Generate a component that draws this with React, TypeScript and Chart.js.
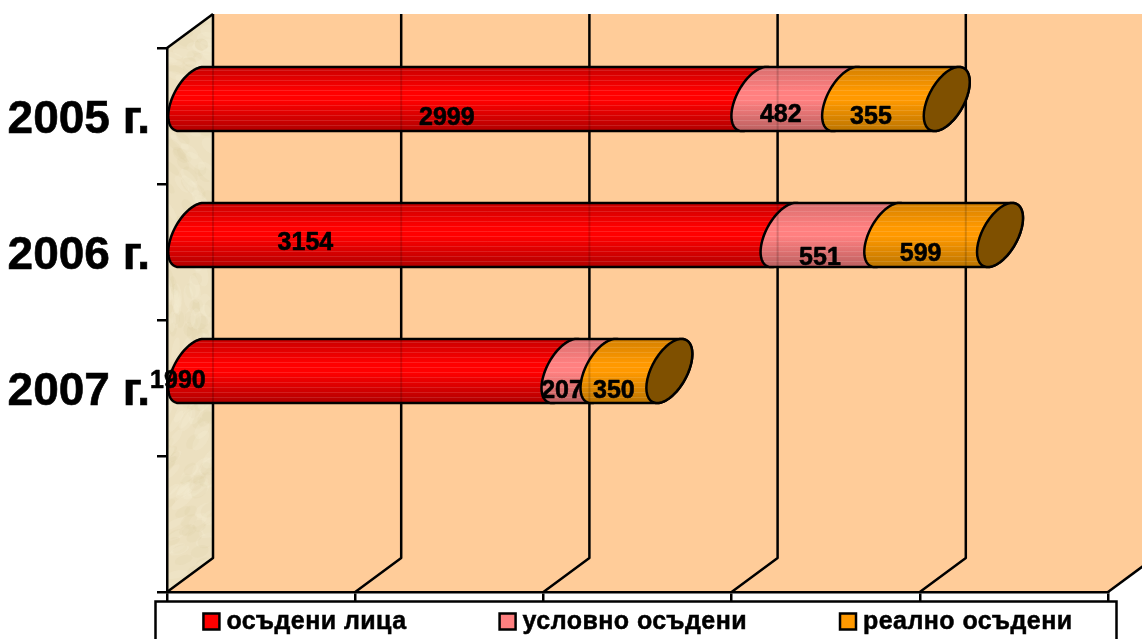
import React, { useEffect, useRef } from "react";
import { Chart, registerables } from "chart.js";

Chart.register(...registerables);

const categories = ["2005 г.", "2006 г.", "2007 г.", ""];
const seriesNames = ["осъдени лица", "условно осъдени", "реално осъдени"];
const convicted = [2999, 3154, 1990, null];
const suspended = [482, 551, 207, null];
// Bar length as drawn in the picture; the 2005 segment is longer than its printed label.
const effective = [540, 599, 350, null];
const convictedLabels = ["2999", "3154", "1990", ""];
const suspendedLabels = ["482", "551", "207", ""];
const effectiveLabels = ["355", "599", "350", ""];
const xMax = 5000;
const xStep = 1000;

const seriesLabels = [convictedLabels, suspendedLabels, effectiveLabels];
const LABEL_SHIFT: number[][][] = [
  [[-26, 19], [-19, 16], [-25, 18]],
  [[-182, 8], [-15.5, 23], [-23, 19]],
  [[-200, 10], [-22, 20], [-22.5, 20]],
];

const DEPTH_X = 46;
const DEPTH_Y = 34;
const COLORS = [
  { main: "#ff0000", top: "#c80000", bottom: "#b00000" },
  { main: "#ff8080", top: "#d86e6e", bottom: "#bb6060" },
  { main: "#ff9900", top: "#d48000", bottom: "#bb7400" },
];
const CAP = "#7f5000";
const FONT = '"Liberation Sans", Arial, sans-serif';
const LINE = 2.5;

function ellipsePath(ctx: any, cx: number, cy: number, ry: number, from: number, to: number, first: boolean) {
  const steps = 40;
  for (let i = 0; i <= steps; i++) {
    const t = from + ((to - from) * i) / steps;
    const px = cx + (DEPTH_X / 2) * Math.sin(t);
    const py = cy + ry * Math.cos(t) - (DEPTH_Y / 2) * Math.sin(t);
    if (i === 0 && first) ctx.moveTo(px, py);
    else ctx.lineTo(px, py);
  }
}

const scene = {
  id: "scene",
  beforeDraw(chart: any) {
    const { ctx, chartArea: a } = chart;
    chart.scales.y.getLabelItems().forEach((item: any) => {
      if (!item.moved) {
        item.textOffset += 4.5;
        item.moved = true;
      }
    });
    ctx.save();
    // back wall + floor
    ctx.fillStyle = "#ffcc99";
    ctx.beginPath();
    ctx.moveTo(a.left + DEPTH_X, a.top - DEPTH_Y);
    ctx.lineTo(a.right + DEPTH_X, a.top - DEPTH_Y);
    ctx.lineTo(a.right + DEPTH_X, a.bottom - DEPTH_Y);
    ctx.lineTo(a.right, a.bottom);
    ctx.lineTo(a.left, a.bottom);
    ctx.closePath();
    ctx.fill();
    // left wall
    ctx.beginPath();
    ctx.moveTo(a.left, a.top);
    ctx.lineTo(a.left + DEPTH_X, a.top - DEPTH_Y);
    ctx.lineTo(a.left + DEPTH_X, a.bottom - DEPTH_Y);
    ctx.lineTo(a.left, a.bottom);
    ctx.closePath();
    ctx.fillStyle = "#ece0c0";
    ctx.fill();
    ctx.save();
    ctx.clip();
    for (let i = 0; i < 260; i++) {
      const h1 = Math.abs(Math.sin(i * 12.9898) * 43758.5453) % 1;
      const h2 = Math.abs(Math.sin(i * 78.233) * 12543.123) % 1;
      const h3 = Math.abs(Math.sin(i * 37.719) * 9631.77) % 1;
      ctx.fillStyle = h3 > 0.5 ? "rgba(250,244,224,0.18)" : "rgba(214,198,158,0.13)";
      ctx.beginPath();
      ctx.ellipse(a.left + h1 * DEPTH_X, a.top - DEPTH_Y + h2 * (a.bottom - a.top + DEPTH_Y), 6 + h3 * 7, 3 + h1 * 4, h2 * 3, 0, Math.PI * 2);
      ctx.fill();
    }
    ctx.restore();
    // legend frame
    ctx.fillStyle = "#ffffff";
    ctx.strokeStyle = "#000000";
    ctx.lineWidth = LINE;
    ctx.beginPath();
    ctx.rect(155.5, 601.5, 961, 60);
    ctx.fill();
    ctx.stroke();
    // legend entries
    ctx.font = `bold 25px ${FONT}`;
    (ctx as any).letterSpacing = "0.45px";
    ctx.textBaseline = "middle";
    ctx.textAlign = "left";
    const gap = 92;
    const widths = seriesNames.map((n) => 24 + ctx.measureText(n).width);
    const total = widths.reduce((s, w) => s + w, 0) + gap * (seriesNames.length - 1);
    let lx = (a.left + a.right) / 2 - total / 2;
    seriesNames.forEach((n, i) => {
      ctx.fillStyle = COLORS[i].main;
      ctx.lineWidth = LINE;
      ctx.fillRect(lx + 1, 613.5, 16, 16);
      ctx.strokeRect(lx + 1, 613.5, 16, 16);
      ctx.fillStyle = "#000000";
      ctx.lineWidth = 0.5;
      ctx.fillText(n, lx + 24, 622.5);
      ctx.strokeText(n, lx + 24, 622.5);
      lx += widths[i] + gap;
    });
    (ctx as any).letterSpacing = "0px";
    ctx.restore();
  },
  beforeDatasetsDraw(chart: any) {
    const { ctx, chartArea: a, scales } = chart;
    const xs: number[] = scales.x.ticks.map((t: any) => scales.x.getPixelForValue(t.value));
    ctx.save();
    ctx.strokeStyle = "#000000";
    ctx.lineWidth = LINE;
    ctx.lineJoin = "round";
    // left wall edges
    ctx.beginPath();
    ctx.moveTo(a.left, a.top);
    ctx.lineTo(a.left + DEPTH_X, a.top - DEPTH_Y);
    ctx.stroke();
    // gridlines on the wall and floor
    xs.forEach((x) => {
      ctx.beginPath();
      if (x < a.right - 1) {
        ctx.moveTo(x + DEPTH_X, a.top - DEPTH_Y);
        ctx.lineTo(x + DEPTH_X, a.bottom - DEPTH_Y);
      } else {
        ctx.moveTo(x + DEPTH_X, a.bottom - DEPTH_Y);
      }
      ctx.lineTo(x, a.bottom);
      ctx.stroke();
    });

    chart.data.datasets.forEach((_: any, dsIndex: number) => {
      const meta = chart.getDatasetMeta(dsIndex);
      meta.data.forEach((el: any, i: number) => {
        if (chart.data.datasets[dsIndex].data[i] == null) return;
        const ry = el.height / 2;
        const half = Math.hypot(ry, DEPTH_Y / 2);
        const alpha = Math.atan2(DEPTH_Y / 2, ry);
        const cy = el.y - DEPTH_Y / 2;
        const x0 = el.base + DEPTH_X / 2;
        const x1 = el.x + DEPTH_X / 2;
        const path = new Path2D();
        // near half of the start ring, then far half of the end ring
        ellipsePath(path, x0, cy, ry, Math.PI - alpha, 2 * Math.PI - alpha, true);
        ellipsePath(path, x1, cy, ry, -alpha, Math.PI - alpha, false);
        path.closePath();
        const c = COLORS[dsIndex];
        const g = ctx.createLinearGradient(0, cy - half, 0, cy + half);
        g.addColorStop(0, c.top);
        g.addColorStop(0.38, c.main);
        g.addColorStop(0.52, c.main);
        g.addColorStop(1, c.bottom);
        ctx.fillStyle = g;
        ctx.fill(path);
        ctx.save();
        ctx.clip(path);
        ctx.lineWidth = 1;
        ctx.strokeStyle = "rgba(255,255,255,0.12)";
        for (let y = Math.round(cy - half) + 3; y < cy + half; y += 5) {
          ctx.beginPath();
          ctx.moveTo(x0 - DEPTH_X, y + 0.5);
          ctx.lineTo(x1 + DEPTH_X, y + 0.5);
          ctx.stroke();
        }
        ctx.lineWidth = 2;
        ctx.strokeStyle = "rgba(0,0,0,0.16)";
        xs.forEach((x) => {
          ctx.beginPath();
          ctx.moveTo(x + DEPTH_X, cy - half);
          ctx.lineTo(x + DEPTH_X, cy + half);
          ctx.stroke();
        });
        ctx.restore();
        ctx.lineWidth = LINE;
        ctx.stroke(path);
        if (dsIndex === chart.data.datasets.length - 1) {
          const cap = new Path2D();
          ellipsePath(cap, x1, cy, ry, 0, Math.PI * 2, true);
          cap.closePath();
          ctx.fillStyle = CAP;
          ctx.fill(cap);
          ctx.stroke(cap);
        }
      });
    });

    // value labels
    ctx.fillStyle = "#000000";
    ctx.font = `bold 25px ${FONT}`;
    ctx.textAlign = "center";
    ctx.textBaseline = "middle";
    ctx.lineWidth = 0.6;
    chart.data.datasets.forEach((_: any, dsIndex: number) => {
      const meta = chart.getDatasetMeta(dsIndex);
      meta.data.forEach((el: any, i: number) => {
        const text = seriesLabels[dsIndex][i];
        if (!text) return;
        const [dx, dy] = LABEL_SHIFT[i][dsIndex];
        const tx = (el.base + el.x) / 2 + DEPTH_X / 2 + dx;
        const ty = el.y - DEPTH_Y / 2 + dy;
        ctx.fillText(text, tx, ty);
        ctx.strokeText(text, tx, ty);
      });
    });
    ctx.restore();
    return false;
  },
};

export default function App() {
  const ref = useRef<HTMLCanvasElement | null>(null);
  useEffect(() => {
    if (!ref.current) return;
    const chart = new Chart(ref.current, {
      type: "bar",
      data: {
        labels: categories,
        datasets: [
          { label: seriesNames[0], data: convicted, backgroundColor: COLORS[0].main },
          { label: seriesNames[1], data: suspended, backgroundColor: COLORS[1].main },
          { label: seriesNames[2], data: effective, backgroundColor: COLORS[2].main },
        ],
      },
      options: {
        indexAxis: "y",
        responsive: false,
        animation: false,
        layout: { autoPadding: false, padding: { left: 0, top: 48, right: 34, bottom: 38 } },
        datasets: { bar: { categoryPercentage: 0.4, barPercentage: 1 } },
        plugins: { legend: { display: false }, tooltip: { enabled: false } },
        scales: {
          x: {
            stacked: true,
            min: 0,
            max: xMax,
            ticks: { stepSize: xStep, display: false },
            grid: { drawOnChartArea: false, color: "#000", lineWidth: LINE, tickLength: 9 },
            border: { color: "#000", width: LINE },
            afterFit: (s: any) => {
              s.height = 9;
            },
          },
          y: {
            stacked: true,
            ticks: {
              color: "#000",
              padding: 7,
              font: { family: FONT, size: 46, weight: "bold" },
              textStrokeColor: "#000",
              textStrokeWidth: 0.6,
              autoSkip: false,
            },
            grid: { drawOnChartArea: false, color: "#000", lineWidth: LINE, tickLength: 10 },
            border: { color: "#000", width: LINE },
            afterFit: (s: any) => {
              s.width = 167;
            },
          },
        },
      },
      plugins: [scene],
    } as any);
    return () => chart.destroy();
  }, []);
  return (
    <canvas
      ref={ref}
      width={1142}
      height={639}
      style={{ position: "absolute", left: 0, top: 0, display: "block" }}
    />
  );
}
